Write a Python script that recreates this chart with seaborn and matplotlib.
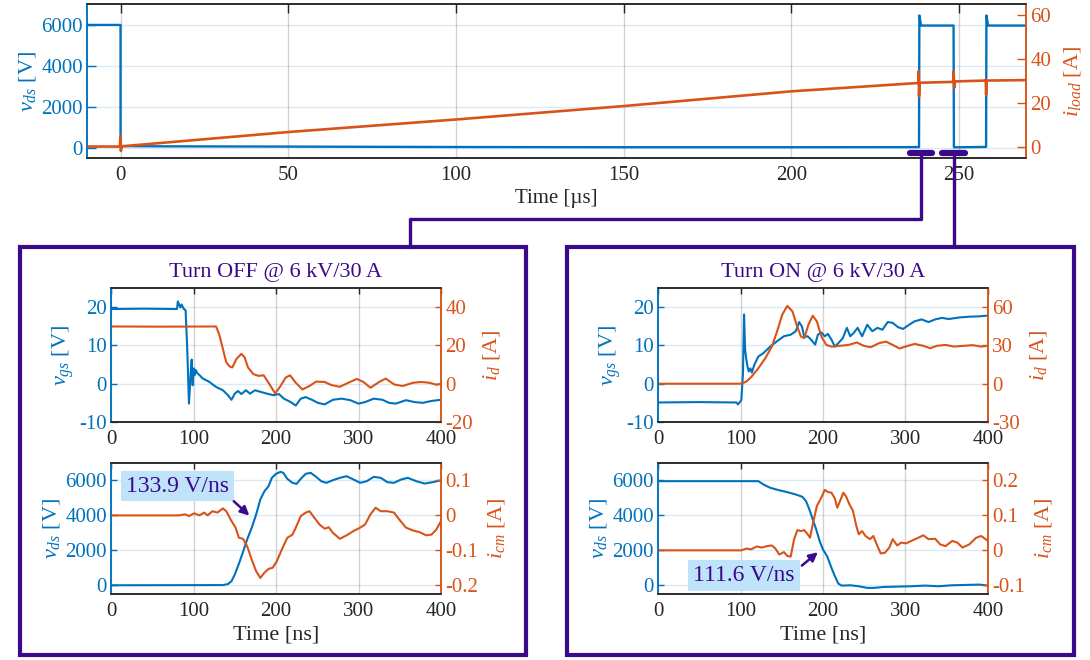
import numpy as np
import matplotlib
matplotlib.use("Agg")
import matplotlib.pyplot as plt
import seaborn as sns
from matplotlib.lines import Line2D
from matplotlib.patches import Rectangle

# --- Overview trace, time in us ---
top_vds = [(-10, 5980), (0, 5980), (0, 80), (10, 70), (50, 55), (100, 35), (150, 25),
           (200, 25), (238.1, 30), (238.2, 6440), (238.7, 5950), (248.4, 5950), (248.5, 20),
           (258.1, 40), (258.2, 6440), (258.7, 5950), (270, 5950)]
top_iload = [(-10, 0.2), (-0.2, 0.2), (0, 5.0), (0.1, -1.8), (0.3, 0.3), (50, 6.8), (100, 12.5),
             (150, 18.6), (200, 25.3), (237.9, 29.1), (238.0, 34.4), (238.1, 23.0), (238.3, 29.2),
             (248.3, 29.6), (248.4, 34.4), (248.6, 26.9), (248.8, 29.8), (257.9, 30.2),
             (258.0, 30.6), (258.1, 23.8), (258.3, 30.2), (270, 30.4)]
zoom_windows = [(235.4, 242.1), (245.1, 251.9)]
zoom_links = [238.8, 248.5]

# --- Turn OFF, time in ns ---
off_vgs = [(0, 19.5), (40, 19.6), (80, 19.5), (81, 21.5), (84, 19.9), (85.5, 20.7), (88, 19.6),
           (90.4, 19.2), (92.5, 8.6), (94.5, -5.2), (96.6, 2.7), (97.8, 6.3), (99, -0.4),
           (100.3, 4.0), (101.5, 2.3), (102.7, 3.6), (104.8, 2.7), (107, 2.3), (111, 1.4),
           (119, 0.5), (127, -0.8), (135.6, -1.7), (141.8, -3.0), (146, -4.2), (150, -2.6),
           (154, -1.9), (158, -2.7), (163.6, -1.7), (168.5, -2.6), (174.6, -1.7), (180.8, -2.1),
           (189, -2.6), (197, -3.0), (203.5, -2.7), (209.6, -3.9), (217.8, -4.8), (224, -5.7),
           (230, -3.9), (236, -3.5), (244.5, -4.3), (250.7, -5.0), (259, -5.4), (269, -4.2),
           (279.5, -3.9), (290, -4.3), (300, -5.2), (308, -4.8), (318.5, -3.9), (329, -4.2),
           (337, -5.0), (345, -5.2), (357.6, -4.3), (368, -4.8), (378, -5.0), (388.5, -4.5),
           (400, -4.2)]
off_id = [(0, 29.9), (60, 29.8), (127.4, 29.9), (131.5, 25.3), (135.6, 18.2), (139.7, 11.2),
          (143.8, 9.0), (147, 8.5), (152, 12.9), (158, 15.6), (162, 13.8), (166, 8.5),
          (172.6, 5.0), (178.8, 4.1), (185, 4.4), (191, 0.5), (199, -5.1), (205.5, -1.2),
          (211.7, 3.2), (217, 4.4), (224, 0.5), (232, -3.0), (240.5, -1.2), (248.7, 1.1),
          (259, 0.9), (267, -0.7), (277.4, -1.6), (287.7, 0.5), (298, 2.5), (306, 0.9),
          (314.5, -2.1), (325, 0.9), (333, 2.7), (343.3, -0.4), (353.6, -1.2), (366, 0.5),
          (376, 0.9), (386, 0.5), (394.5, -0.5), (400, 0.0)]
off_vds = [(0, 0), (135.6, 10), (141.8, 70), (146, 230), (150, 611), (155.4, 1280), (160.3, 1948),
           (165, 2617), (170.5, 3285), (175.9, 4050), (181, 4909), (186, 5386), (191, 5673),
           (195, 6150), (200, 6380), (205.5, 6494), (208.8, 6437), (213.7, 6093), (220, 5864),
           (225, 5806), (230, 6093), (236, 6380), (242, 6437), (248.7, 6207), (254.8, 5959),
           (261, 5864), (269, 6016), (277.4, 6150), (285.6, 6245), (294, 6054), (302, 5864),
           (310, 5959), (318.5, 6207), (327, 6150), (335, 5902), (343, 5864), (351.5, 6054),
           (359.8, 6150), (370, 5959), (380, 5825), (390, 5902), (400, 6016)]
off_icm = [(0, 0), (82, 0), (90, 0.003), (94.5, -0.002), (100.7, 0.006), (107, 0), (113, 0.008),
           (117, 0), (123, 0.012), (129, 0.008), (135.6, 0.020), (139.7, 0.012), (146, -0.016),
           (151, -0.035), (155, -0.064), (160, -0.067), (165, -0.088), (170.5, -0.126),
           (176, -0.160), (181, -0.179), (186, -0.164), (191, -0.153), (196, -0.150),
           (201, -0.131), (207, -0.098), (213.7, -0.064), (220, -0.055), (224, -0.035),
           (230, -0.002), (236, 0.008), (240.5, 0.012), (246.6, -0.007), (252.7, -0.026),
           (259, -0.038), (264, -0.034), (269, -0.050), (277.4, -0.067), (285.6, -0.057),
           (293.8, -0.045), (302, -0.035), (308, -0.026), (314.5, 0.003), (320.7, 0.022),
           (327, 0.012), (335, 0.012), (343, 0.008), (349.5, -0.012), (357.6, -0.035),
           (366, -0.043), (374, -0.048), (382, -0.057), (388.5, -0.055), (394.5, -0.040),
           (400, -0.016)]

# --- Turn ON, time in ns ---
on_vgs = [(0, -4.9), (50, -4.8), (95, -4.9), (97, -5.4), (101, -4.3), (103, 2.7), (104.3, 18.1),
          (105.6, 8.9), (106.8, 6.7), (108.5, 4.5), (110, 3.2), (112, 4.0), (113.8, 2.9),
          (116.7, 4.9), (121.6, 7.1), (127.8, 8.0), (136, 9.7), (144.3, 11.1), (152.6, 12.4),
          (160.8, 12.8), (167, 13.7), (171, 16.1), (174.4, 15.0), (177.3, 12.2), (181.4, 12.4),
          (185.6, 11.5), (190.5, 10.2), (193.8, 12.8), (198, 13.4), (202, 12.4), (206, 13.0),
          (210.3, 11.5), (214.4, 9.7), (218.6, 10.6), (224, 11.9), (228.9, 14.6), (233, 12.4),
          (237, 13.2), (242, 14.6), (247.4, 12.4), (253.6, 15.4), (259.8, 13.7), (266, 14.6),
          (272, 14.1), (278.4, 16.1), (284.5, 15.9), (290.7, 14.8), (296.9, 14.3), (303, 15.2),
          (311, 16.3), (319.6, 16.8), (327.8, 16.1), (336, 16.8), (344, 17.2), (352.6, 16.9),
          (365, 17.3), (377, 17.5), (389.7, 17.6), (400, 17.8)]
on_id = [(0, 0), (101, 0), (107, 1.6), (113.4, 5.5), (121.6, 12.1), (130, 19.9), (138, 29.1),
         (144.3, 40.9), (150.5, 54.0), (156.7, 61.0), (163, 56.7), (168, 46.2), (173.2, 37.0),
         (177.3, 35.7), (182.3, 46.2), (187.6, 53.3), (192.6, 48.8), (198, 37.0), (204, 30.4),
         (210.3, 29.1), (220.6, 29.7), (231, 30.4), (241, 32.3), (249.5, 29.7), (257.7, 28.6),
         (268, 31.8), (276.3, 33.0), (284.5, 30.4), (292.8, 27.6), (303, 29.7), (311, 31.2),
         (321.6, 29.7), (330, 27.8), (338, 29.7), (348.5, 30.4), (358.8, 29.1), (371, 29.7),
         (381.4, 30.2), (391.8, 29.1), (400, 29.7)]
on_vds = [(0, 5960), (121.6, 5960), (127.8, 5771), (136, 5580), (146.4, 5446), (156.7, 5331),
          (167, 5198), (175, 5064), (179.4, 4816), (183.5, 4338), (187.6, 3765), (191.8, 3191),
          (196, 2522), (200, 2044), (205, 1662), (210.3, 994), (214.4, 516), (218.6, 96),
          (222.7, -20), (233, 0), (243.3, -57), (253.6, -150), (261.9, -150), (274, -95),
          (290.7, -76), (307, -57), (323.7, -19), (340, -57), (356.7, 0), (373, 19),
          (389.7, 38), (400, -19)]
on_icm = [(0, 0), (101, 0), (107, 0.005), (113, 0.003), (119.6, 0.011), (125.8, 0.008),
          (132, 0.012), (138, 0.014), (142.3, 0.005), (147, -0.012), (152.6, -0.005),
          (156.7, -0.016), (160.8, -0.018), (165, 0.032), (169, 0.058), (173.2, 0.055),
          (177.3, 0.058), (181.4, 0.046), (184.3, 0.036), (187.6, 0.075), (192.6, 0.127),
          (198, 0.151), (202, 0.173), (206, 0.167), (210.3, 0.165), (214.4, 0.148),
          (217.3, 0.122), (220.6, 0.141), (224.7, 0.165), (228, 0.154), (232, 0.132),
          (236.3, 0.113), (240.4, 0.070), (243.3, 0.046), (247.4, 0.055), (251.5, 0.041),
          (256.9, 0.032), (261, 0.041), (266, 0.012), (270, -0.009), (275, -0.007),
          (280.4, 0.008), (284.5, 0.032), (289.9, 0.014), (294.8, 0.022), (301, 0.020),
          (307, 0.027), (315.5, 0.036), (321.6, 0.043), (327.8, 0.032), (336, 0.033),
          (342, 0.017), (348.5, 0.012), (356.7, 0.027), (362.9, 0.022), (369, 0.008),
          (377.3, 0.017), (385.6, 0.036), (391.8, 0.041), (400, 0.027)]

# slope call-outs: label, box (t0, t1, v0, v1), arrow tail, arrow head (v_ds units)
off_slope = ("133.9 V/ns", (12.3, 148.8, 4813, 6532), (148.8, 4813), (167.7, 3990))
on_slope = ("111.6 V/ns", (35.9, 172.0, -344, 1433), (174.4, 1127), (193.8, 1892))

BLUE = "#0072BD"
ORANGE = "#D95319"
PURPLE = "#3b0a8c"
DARK = "#262626"
FS = 15

sns.set_theme(style="white")
plt.rcParams["font.family"] = ["Liberation Serif", "DejaVu Serif"]
plt.rcParams["mathtext.fontset"] = "custom"
plt.rcParams["mathtext.rm"] = "Liberation Serif"
plt.rcParams["mathtext.it"] = "Liberation Serif:italic"
plt.rcParams["axes.unicode_minus"] = False

W, H = 1090, 660
fig = plt.figure(figsize=(W / 100, H / 100), dpi=100)


def px_rect(l, t, r, b):
    return [l / W, 1 - b / H, (r - l) / W, (b - t) / H]


def trace(ax, pts, color, lw):
    arr = np.array(pts, dtype=float)
    sns.lineplot(x=arr[:, 0], y=arr[:, 1], ax=ax, color=color, lw=lw,
                 sort=False, estimator=None)


def panel(rect, xlim, xticks, ylim, yticks, y2lim, y2ticks, y2labels, ticklen):
    ax = fig.add_axes(rect)
    ax2 = ax.twinx()
    ax.set_xlim(xlim)
    ax.set_xticks(xticks)
    ax.set_ylim(ylim)
    ax.set_yticks(yticks)
    ax2.set_ylim(y2lim)
    ax2.set_yticks(y2ticks)
    ax2.set_yticklabels(y2labels)
    ax.grid(axis="y", color=BLUE, alpha=0.15, lw=1)
    ax.grid(axis="x", color="#7f7f7f", alpha=0.35, lw=1)
    ax.tick_params(axis="x", direction="in", top=True, length=ticklen, width=1,
                   colors=DARK, labelsize=FS, pad=6)
    ax.tick_params(axis="y", direction="in", length=ticklen, width=1,
                   colors=BLUE, labelsize=FS, pad=3)
    ax2.tick_params(axis="y", direction="in", length=ticklen, width=1,
                    colors=ORANGE, labelsize=FS, pad=3)
    for a in (ax, ax2):
        a.spines["top"].set_color(DARK)
        a.spines["bottom"].set_color(DARK)
        a.spines["left"].set_color(BLUE)
        a.spines["right"].set_color(ORANGE)
        for sp in a.spines.values():
            sp.set_linewidth(1.1)
    return ax, ax2


# --- Overview ---
ax_top, ax_top2 = panel(px_rect(87, 4, 1026, 158), (-10, 270), [0, 50, 100, 150, 200, 250],
                        (-500, 7000), [0, 2000, 4000, 6000], (-5, 65), [0, 20, 40, 60],
                        ["0", "20", "40", "60"], 6.5)
trace(ax_top, top_vds, BLUE, 1.7)
trace(ax_top2, top_iload, ORANGE, 1.9)
ax_top.set_xlim(-10, 270)
ax_top.set_xlabel("Time [µs]", fontsize=FS, color=DARK, labelpad=3)
ax_top.set_ylabel(r"$v_{ds}$ [V]", fontsize=16, color=BLUE, labelpad=2)
ax_top2.set_ylabel(r"$i_{load}$ [A]", fontsize=16, color=ORANGE, labelpad=8)
for t0, t1 in zoom_windows:
    ax_top.plot([t0, t1], [-260, -260], color=PURPLE, lw=4.5, solid_capstyle="round",
                clip_on=False, zorder=5)

# --- Zoomed panels ---
xt = [0, 100, 200, 300, 400]
boxes = [
    (20, 526, "Turn OFF @ 6 kV/30 A", off_vgs, off_id, off_vds, off_icm, off_slope, 4000,
     (-20, 50), [-20, 0, 20, 40], ["-20", "0", "20", "40"],
     (-0.225, 0.15), [-0.2, -0.1, 0, 0.1], ["-0.2", "-0.1", "0", "0.1"]),
    (567, 1074, "Turn ON @ 6 kV/30 A", on_vgs, on_id, on_vds, on_icm, on_slope, 2000,
     (-30, 75), [-30, 0, 30, 60], ["-30", "0", "30", "60"],
     (-0.125, 0.25), [-0.1, 0, 0.1, 0.2], ["-0.1", "0", "0.1", "0.2"]),
]

for (bl, br, title, vgs, idr, vds, icm, slope, zero_v, idlim, idticks, idlabels,
     icmlim, icmticks, icmlabels) in boxes:
    l = bl + 91
    r = l + 330
    ax1, ax1b = panel(px_rect(l, 288, r, 422), (0, 400), xt, (-10, 25), [-10, 0, 10, 20],
                      idlim, idticks, idlabels, 4)
    trace(ax1, vgs, BLUE, 1.5)
    trace(ax1b, idr, ORANGE, 1.5)
    ax1.set_xlim(0, 400)
    ax1.set_title(title, color=PURPLE, fontsize=16, pad=8)
    ax1.set_ylabel(r"$v_{gs}$ [V]", fontsize=16, color=BLUE, labelpad=2)
    ax1b.set_ylabel(r"$i_{d}$ [A]", fontsize=16, color=ORANGE, labelpad=6)

    ax2, ax2b = panel(px_rect(l, 463, r, 594), (0, 400), xt, (-500, 7000),
                      [0, 2000, 4000, 6000], icmlim, icmticks, icmlabels, 4)
    trace(ax2, vds, BLUE, 1.5)
    trace(ax2b, icm, ORANGE, 1.5)
    ax2.set_xlim(0, 400)
    ax2.set_xlabel("Time [ns]", fontsize=16, color=DARK, labelpad=3)
    ax2.set_ylabel(r"$v_{ds}$ [V]", fontsize=16, color=BLUE, labelpad=2)
    ax2b.set_ylabel(r"$i_{cm}$ [A]", fontsize=16, color=ORANGE, labelpad=6)

    # call-out drawn on the right axis (i_cm = (v_ds - zero_v) / 20000)
    label, (x0, x1, y0, y1), tail, head = slope
    ax2b.set_zorder(ax2.get_zorder() + 1)
    ax2b.add_patch(Rectangle((x0, (y0 - zero_v) / 20000), x1 - x0, (y1 - y0) / 20000,
                             fc="#bfe3fa", ec="none", zorder=4))
    ax2b.text((x0 + x1) / 2, ((y0 + y1) / 2 - zero_v) / 20000, label, color=PURPLE,
              fontsize=17, ha="center", va="center", zorder=5)
    ax2b.annotate("", xy=(head[0], (head[1] - zero_v) / 20000),
                  xytext=(tail[0], (tail[1] - zero_v) / 20000),
                  arrowprops=dict(arrowstyle="-|>", color=PURPLE, lw=1.8,
                                  mutation_scale=13, shrinkA=0, shrinkB=0), zorder=5)

    fig.add_artist(Rectangle((bl / W, 1 - 655 / H), (br - bl) / W, (655 - 247) / H,
                             transform=fig.transFigure, fill=False, ec=PURPLE, lw=3))

# --- Connectors from the overview to the boxes ---
link_px = [ax_top.transData.transform((t, -260))[0] for t in zoom_links]
y_bar = 1 - 154 / H
fig.add_artist(Line2D([link_px[0] / W, link_px[0] / W, 410 / W, 410 / W],
                      [y_bar, 1 - 219.5 / H, 1 - 219.5 / H, 1 - 247 / H],
                      transform=fig.transFigure, color=PURPLE, lw=2.4))
fig.add_artist(Line2D([link_px[1] / W, link_px[1] / W], [y_bar, 1 - 247 / H],
                      transform=fig.transFigure, color=PURPLE, lw=2.4))

fig.savefig("out.png", dpi=100)
